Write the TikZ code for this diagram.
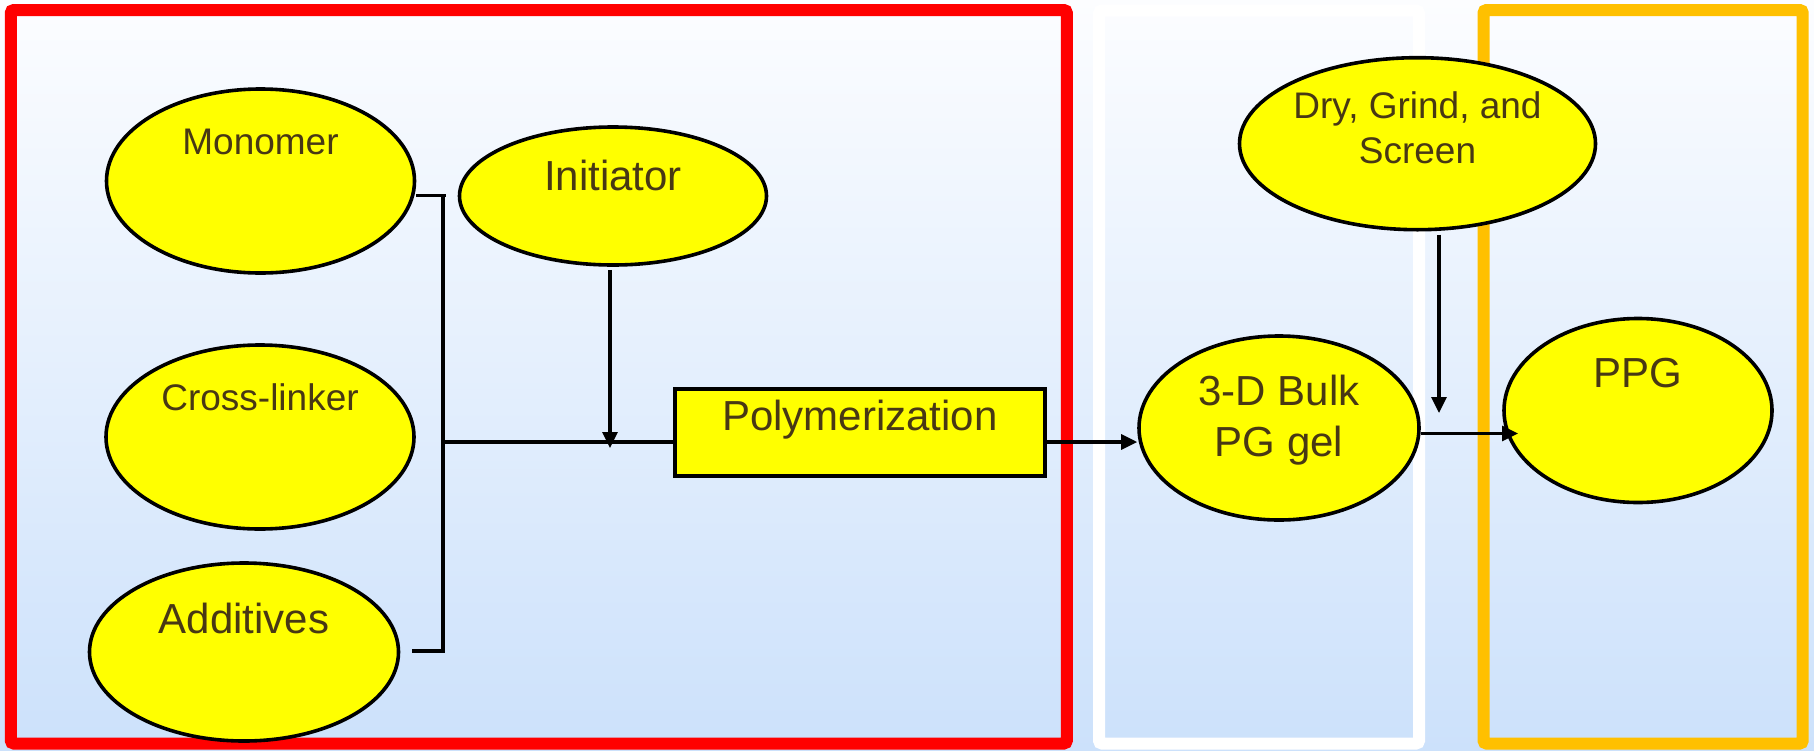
\documentclass[tikz,border=0pt]{standalone}
\usepackage{fontspec}
\setmainfont{Liberation Sans}
\usetikzlibrary{shapes.geometric,arrows.meta,calc}

\definecolor{txtbrown}{RGB}{72,56,20}
\definecolor{bgtop}{RGB}{252,253,255}
\definecolor{bgbot}{RGB}{204,225,251}
\definecolor{framered}{RGB}{255,0,0}
\definecolor{frameorange}{RGB}{255,192,0}
\definecolor{nodeyellow}{RGB}{255,255,0}

\begin{document}
\begin{tikzpicture}[x=1pt,y=-1pt,
  frame/.style={line width=12pt, rounded corners=3pt},
  blob/.style={ellipse, draw=black, line width=3.6pt, fill=nodeyellow, inner sep=0pt},
  procbox/.style={rectangle, draw=black, line width=3.6pt, fill=nodeyellow, inner sep=0pt},
  lbl/.style={text=txtbrown, inner sep=0pt, anchor=base, align=center},
  big/.style={font=\fontsize{42}{51.7}\selectfont},
  small/.style={font=\fontsize{37}{45}\selectfont},
  conn/.style={line width=3.2pt, draw=black},
  arr/.style={conn, -{Triangle[length=16pt,width=15pt]}},
]
\useasboundingbox (0,0) rectangle (1814,750);

% slide background
\fill[top color=bgtop, bottom color=bgbot] (0,0) rectangle (1814,750);

% stage frames
\draw[frame, framered]    (10.8,10) rectangle (1066.8,743.5);
\draw[frame, white]       (1099,10.5) rectangle (1419,743.5);
\draw[frame, frameorange] (1483.5,10) rectangle (1802.7,743.5);

% ingredients
\node[blob, minimum width=308pt, minimum height=184pt] (mono)  at (260.5,181) {};
\node[blob, minimum width=308pt, minimum height=184pt] (xlink) at (260,437) {};
\node[blob, minimum width=309pt, minimum height=178pt] (addi)  at (244,652) {};
\node[blob, minimum width=307pt, minimum height=138pt] (init)  at (613,196) {};

% process steps and products
\node[procbox, minimum width=370pt, minimum height=87pt] (poly) at (860,432.5) {};
\node[blob, minimum width=280pt, minimum height=184pt] (bulk) at (1279,428) {};
\node[blob, minimum width=268pt, minimum height=184pt] (ppg)  at (1638,410.5) {};
\node[blob, minimum width=356pt, minimum height=172pt] (dry)  at (1417.5,143.7) {};

% labels (base anchor = baseline of the last line)
\node[lbl, small] (mono-t)  at ([yshift=27pt]mono.center)    {Monomer};
\node[lbl, small] (xlink-t) at ([yshift=26.5pt]xlink.center) {Cross-linker};
\node[lbl, big]   (addi-t)  at ([yshift=18.7pt]addi.center)  {Additives};
\node[lbl, big]   (init-t)  at ([yshift=6pt]init.center)     {Initiator};
\node[lbl, big]   (poly-t)  at ([yshift=2.5pt]poly.center)   {Polymerization};
\node[lbl, big]   (bulk-t)  at ([yshift=-28.7pt]bulk.center) {3-D Bulk\\PG gel};
\node[lbl, big]   (ppg-t)   at ([yshift=23.2pt]ppg.center)   {PPG};
\node[lbl, small] (dry-t)   at ([yshift=-19.6pt]dry.center)  {Dry, Grind, and\\Screen};

% junction points
\coordinate (bt) at (443,195.5);
\coordinate (bb) at (443,651);
\coordinate (bj) at (443,442);
\coordinate (ij) at (610,448);
\coordinate (pj) at (1518,433.5);
\coordinate (dj) at (1439,413);

% collecting bracket
\draw[conn] (mono.east |- bt) -- ([xshift=3pt]bt);
\draw[conn] (bt) -- (bb) -- ([xshift=12pt]addi.east |- bb);
\draw[conn] (bj) -- (poly.west |- bj);

% arrows
\draw[arr] ([yshift=-3pt]init.south -| ij) -- (ij);
\draw[arr] (poly.east |- bj) -- (bulk.west |- bj);
\draw[arr] (bulk.east |- pj) -- (pj);
\draw[arr] ([yshift=-3pt]dry.south -| dj) -- (dj);
\end{tikzpicture}
\end{document}
